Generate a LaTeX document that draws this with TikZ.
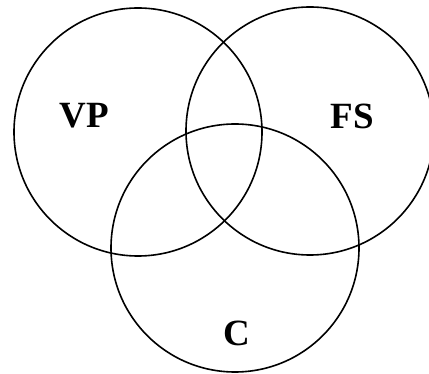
\documentclass[tikz,border=0pt]{standalone}
\usepackage{fontspec}
\setmainfont{Liberation Serif}
\begin{document}
\begin{tikzpicture}[x=1pt,y=1pt,
  ring/.style={draw=black,line width=1.6pt,circle,minimum size=248pt,inner sep=0pt},
  lbl/.style={font=\fontsize{37}{37}\selectfont\bfseries,inner sep=0pt,anchor=center}]
\useasboundingbox (0,0) rectangle (429,-374);
\node[ring] (vp) at (138,-132) {};
\node[ring] (fs) at (310,-131) {};
\node[ring] (c) at (235,-248) {};
\node[lbl] (lvp) at (84,-116) {VP};
\node[lbl] (lfs) at (352,-116) {FS};
\node[lbl] (lc) at (237,-333) {C};
\end{tikzpicture}
\end{document}
